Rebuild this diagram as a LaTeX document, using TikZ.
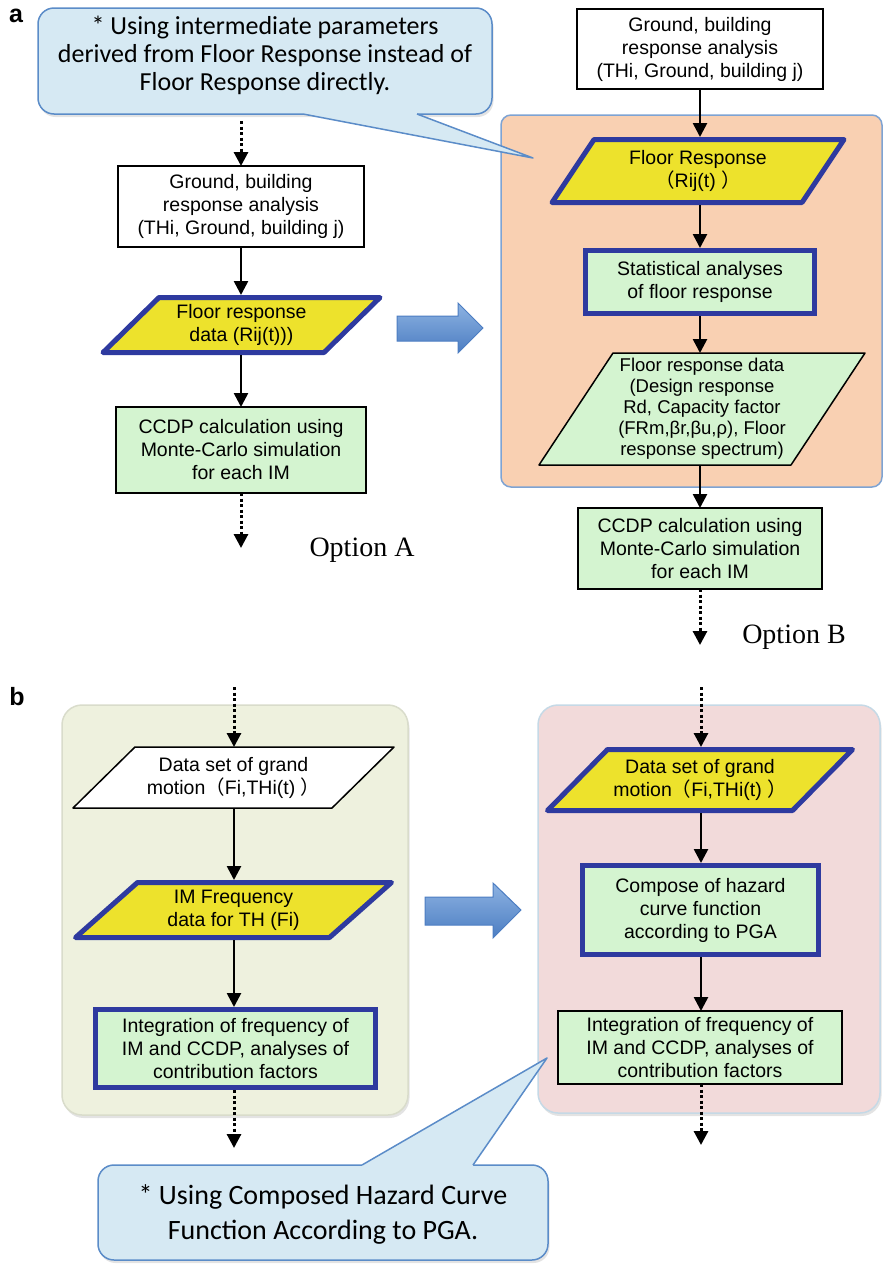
\documentclass[tikz,border=0pt]{standalone}
\usepackage{fontspec}
\setmainfont{Liberation Sans}
\newfontfamily\calfont{Carlito}
\newfontfamily\serifont{Liberation Serif}
\newfontfamily\cjk{Noto Sans CJK SC}
\usetikzlibrary{arrows.meta,shadows}
\definecolor{yel}{HTML}{EDE22C}
\definecolor{navy}{HTML}{2E3A9F}
\definecolor{lgreen}{HTML}{D4F4D0}
\definecolor{peach}{HTML}{F9D0B2}
\definecolor{panelline}{HTML}{7EA3D3}
\definecolor{calfill}{HTML}{D6E9F3}
\definecolor{calline}{HTML}{5B8CC8}
\definecolor{olive}{HTML}{EEF1DE}
\definecolor{oliveline}{HTML}{D9DCCB}
\definecolor{pinkp}{HTML}{F2DADA}
\definecolor{pinkline}{HTML}{C5D9E6}
\definecolor{arrowtop}{HTML}{8DB3E2}
\definecolor{arrowbot}{HTML}{4C7DC2}
\newcommand{\parashape}[6]{%
  \path[#1] ({#2-#4/2+#6},{#3-#5/2}) -- ({#2+#4/2+#6},{#3-#5/2}) -- ({#2+#4/2-#6},{#3+#5/2}) -- ({#2-#4/2-#6},{#3+#5/2}) -- cycle;}
\begin{document}
\begin{tikzpicture}[x=1pt,y=-1pt,
  txt/.style={font=\fontsize{19.5}{23}\selectfont, align=center, inner sep=0pt, outer sep=0pt},
  smalltxt/.style={txt, font=\fontsize{18.5}{21}\selectfont},
  thinbox/.style={txt, draw=black, line width=1.5pt},
  thickbox/.style={txt, draw=navy, line width=5pt, outer sep=2.5pt},
  thinpara/.style={draw=black, line width=1.5pt, line join=round},
  thickpara/.style={draw=navy, line width=5pt, line join=round, fill=yel},
  flow/.style={line width=2.6pt, -{Triangle[width=14pt,length=14pt]}},
  dotflow/.style={line width=3pt, dash pattern=on 3pt off 2.5pt, -{Triangle[width=14pt,length=14pt]}},
  calbody/.style={fill=calfill, draw=calline, line width=1.5pt, rounded corners=16pt},
  caltxt/.style={font=\calfont\fontsize{26}{28}\selectfont, align=center, inner sep=0pt},
  optlbl/.style={font=\serifont\fontsize{28}{28}\selectfont, inner sep=0pt},
  panlbl/.style={font=\fontsize{25}{25}\selectfont\bfseries, inner sep=0pt},
  bigarrow/.style={top color=arrowtop, bottom color=arrowbot, draw=arrowbot, line width=1pt},
  softshadow/.style={drop shadow={opacity=0.22, shadow xshift=1.5pt, shadow yshift=-3pt}}
]
\useasboundingbox (0,0) rectangle (883,1264);

% ---------- panels ----------
\path[fill=peach, draw=panelline, line width=1.5pt, rounded corners=10pt] (501,115) rectangle (882,487);
\path[softshadow, fill=olive, draw=oliveline, line width=1.5pt, rounded corners=20pt] (62,705) rectangle (408,1115);
\path[softshadow, fill=pinkp, draw=pinkline, line width=1.5pt, rounded corners=20pt] (538,705) rectangle (880,1113);

% ---------- labels ----------
\node[panlbl] (la) at (16,16) {a};
\node[panlbl] (lb) at (17,697) {b};

% ---------- top callout ----------
\path[calbody, softshadow] (38,8) rectangle (492,114);
\fill[calfill] (303,114) -- (533,158) -- (417,114) -- (417,110) -- (303,110) -- cycle;
\draw[calline, line width=1.5pt, line join=round] (303,114) -- (533,158) -- (417,114);
\node[caltxt] (c1) at (265,55) {* Using intermediate parameters\\derived from Floor Response instead of\\Floor Response directly.};

% ---------- Option B column ----------
\node[thinbox, fill=white, minimum width=246, minimum height=80] (gB) at (700,49)
  {Ground, building\\response analysis\\(THi, Ground, building j)};
\parashape{thickpara}{698}{171}{250}{63}{21}
\node[txt, minimum width=250, minimum height=63, outer sep=2.5pt] (frB) at (698,171)
  {Floor Response\\{\cjk （}Rij(t) {\cjk ）}};
\node[thickbox, fill=lgreen, minimum width=229, minimum height=63] (stB) at (700,282)
  {Statistical analyses\\of floor response};
\parashape{thinpara, fill=lgreen}{702}{409}{252}{112}{37}
\node[smalltxt, minimum width=252, minimum height=112] (fdB) at (702,409)
  {Floor response data\\(Design response\\Rd, Capacity factor\\(FRm,βr,βu,ρ), Floor\\response spectrum)};
\node[thinbox, fill=lgreen, minimum width=244, minimum height=81] (ccB) at (700,548.5)
  {CCDP calculation using\\Monte-Carlo simulation\\for each IM};
\coordinate (eB) at (700,645);
\node[optlbl] (optB) at (794,637) {Option B};

\draw[flow] (gB.south) -- (gB.south |- frB.north);
\draw[flow] (stB.north |- frB.south) -- (stB.north);
\draw[flow] (stB.south) -- (stB.south |- fdB.north);
\draw[flow] (ccB.north |- fdB.south) -- (ccB.north);
\draw[dotflow] (ccB.south) -- (eB);

% ---------- Option A column ----------
\coordinate (sA) at (241,121);
\node[thinbox, fill=white, minimum width=246, minimum height=81] (gA) at (241,206.5)
  {Ground, building\\response analysis\\(THi, Ground, building j)};
\parashape{thickpara}{241.5}{325}{221}{55}{28}
\node[txt, minimum width=221, minimum height=55, outer sep=2.5pt] (frA) at (241.5,325)
  {Floor response\\data (Rij(t)))};
\node[thinbox, fill=lgreen, minimum width=250, minimum height=86] (ccA) at (241,450)
  {CCDP calculation using\\Monte-Carlo simulation\\for each IM};
\coordinate (eA) at (241,548);
\node[optlbl] (optA) at (362,550) {Option A};

\draw[dotflow] (sA) -- (gA.north);
\draw[flow] (gA.south) -- (gA.south |- frA.north);
\draw[flow] (ccA.north |- frA.south) -- (ccA.north);
\draw[dotflow] (ccA.south) -- (eA);

% big arrow a
\path[bigarrow] (397,316) -- (458,316) -- (458,303) -- (483,328) -- (458,353) -- (458,341) -- (397,341) -- cycle;

% ---------- b, left ----------
\coordinate (s2A) at (234,687);
\parashape{thinpara, fill=white}{233.5}{777.5}{259}{61}{31}
\node[txt, minimum width=259, minimum height=61] (dsA) at (233.5,777.5)
  {Data set of grand\\motion{\cjk （}Fi,THi(t) {\cjk ）}};
\parashape{thickpara}{233.5}{910}{254}{55}{31}
\node[txt, minimum width=254, minimum height=55, outer sep=2.5pt] (imA) at (233.5,910)
  {IM Frequency\\data for TH (Fi)};
\node[thickbox, fill=lgreen, minimum width=280, minimum height=78] (intA) at (235.5,1048.5)
  {Integration of frequency of\\IM and CCDP, analyses of\\contribution factors};
\coordinate (e2A) at (234,1148);

\draw[dotflow] (s2A) -- (s2A |- dsA.north);
\draw[flow] (s2A |- dsA.south) -- (s2A |- imA.north);
\draw[flow] (s2A |- imA.south) -- (s2A |- intA.north);
\draw[dotflow] (s2A |- intA.south) -- (e2A);

% ---------- b, right ----------
\coordinate (s2B) at (701,687);
\parashape{thickpara}{700}{780}{245}{61}{30}
\node[txt, minimum width=245, minimum height=61, outer sep=2.5pt] (dsB) at (700,780)
  {Data set of grand\\motion{\cjk （}Fi,THi(t) {\cjk ）}};
\node[thickbox, fill=lgreen, minimum width=236, minimum height=89] (coB) at (700.5,910)
  {Compose of hazard\\curve function\\according to PGA};
\node[thinbox, fill=lgreen, minimum width=284, minimum height=73] (intB) at (700,1047.5)
  {Integration of frequency of\\IM and CCDP, analyses of\\contribution factors};
\coordinate (e2B) at (701,1145);

\draw[dotflow] (s2B) -- (s2B |- dsB.north);
\draw[flow] (s2B |- dsB.south) -- (s2B |- coB.north);
\draw[flow] (s2B |- coB.south) -- (s2B |- intB.north);
\draw[dotflow] (s2B |- intB.south) -- (e2B);

% big arrow b
\path[bigarrow] (425,897) -- (493,897) -- (493,883) -- (521,910) -- (493,938) -- (493,925) -- (425,925) -- cycle;

% ---------- bottom callout ----------
\path[calbody, softshadow] (98,1165) rectangle (548,1260);
\fill[calfill] (362,1165) -- (547,1058) -- (473,1165) -- (473,1169) -- (362,1169) -- cycle;
\draw[calline, line width=1.5pt, line join=round] (362,1165) -- (547,1058) -- (473,1165);
\node[caltxt, font=\calfont\fontsize{28}{35}\selectfont] (c2) at (323,1214)
  {* Using Composed Hazard Curve\\Function According to PGA.};
\end{tikzpicture}
\end{document}
